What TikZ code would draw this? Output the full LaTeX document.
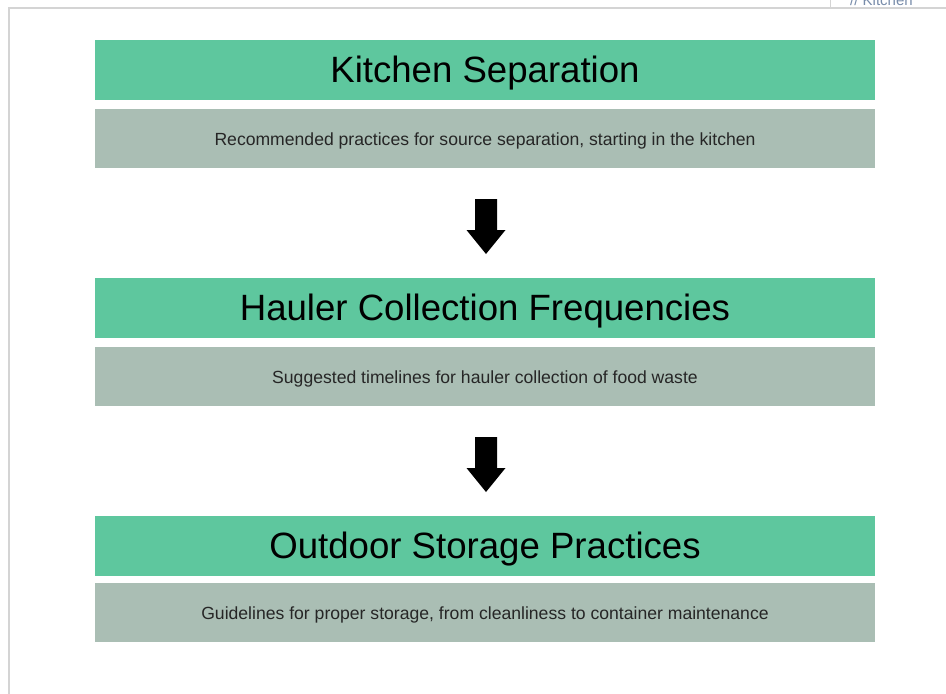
\documentclass[tikz,border=0pt]{standalone}
\usepackage{fontspec}
\setmainfont{Liberation Sans}
\definecolor{boxgreen}{RGB}{94,199,158}
\definecolor{boxgray}{RGB}{170,190,180}
\definecolor{framegray}{RGB}{212,212,212}
\definecolor{tabtext}{RGB}{120,140,170}
\begin{document}
\begin{tikzpicture}[x=1pt,y=-1pt,
  titlebox/.style={fill=boxgreen, draw=none, minimum width=780pt, minimum height=60pt, inner sep=0pt,
    text height=24pt, text depth=0pt,
    font=\fontsize{36.6}{40}\selectfont, text=black},
  descbox/.style={fill=boxgray, draw=none, minimum width=780pt, minimum height=59pt, inner sep=0pt,
    text height=14pt, text depth=0pt,
    font=\fontsize{17.6}{20}\selectfont, text=black!85},
  blockarrow/.style={fill=black, draw=none}]
\useasboundingbox (0,0) rectangle (946,694);
\begin{scope}
\clip (0,0) rectangle (946,694);
% frame
\draw[framegray, line width=1.5pt] (9,694) -- (9,8) -- (946,8);
\draw[framegray, line width=1pt] (830,0) -- (830,8);
\node[anchor=base west, text=tabtext, font=\fontsize{15}{17}\selectfont, inner sep=0pt] (tab) at (850,5) {// Kitchen};
\end{scope}
% boxes
\node[titlebox] (t1) at (485,70) {Kitchen Separation};
\node[descbox] (d1) at (485,138.5) {Recommended practices for source separation, starting in the kitchen};
\node[titlebox] (t2) at (485,308) {Hauler Collection Frequencies};
\node[descbox] (d2) at (485,376.5) {Suggested timelines for hauler collection of food waste};
\node[titlebox] (t3) at (485,546) {Outdoor Storage Practices};
\node[descbox] (d3) at (485,612.5) {Guidelines for proper storage, from cleanliness to container maintenance};
% arrows
\fill[blockarrow] (475,199) -- (497,199) -- (497,230) -- (505.5,230) -- (486,254) -- (466.5,230) -- (475,230) -- cycle;
\fill[blockarrow] (475,437) -- (497,437) -- (497,468) -- (505.5,468) -- (486,492) -- (466.5,468) -- (475,468) -- cycle;
\end{tikzpicture}
\end{document}
